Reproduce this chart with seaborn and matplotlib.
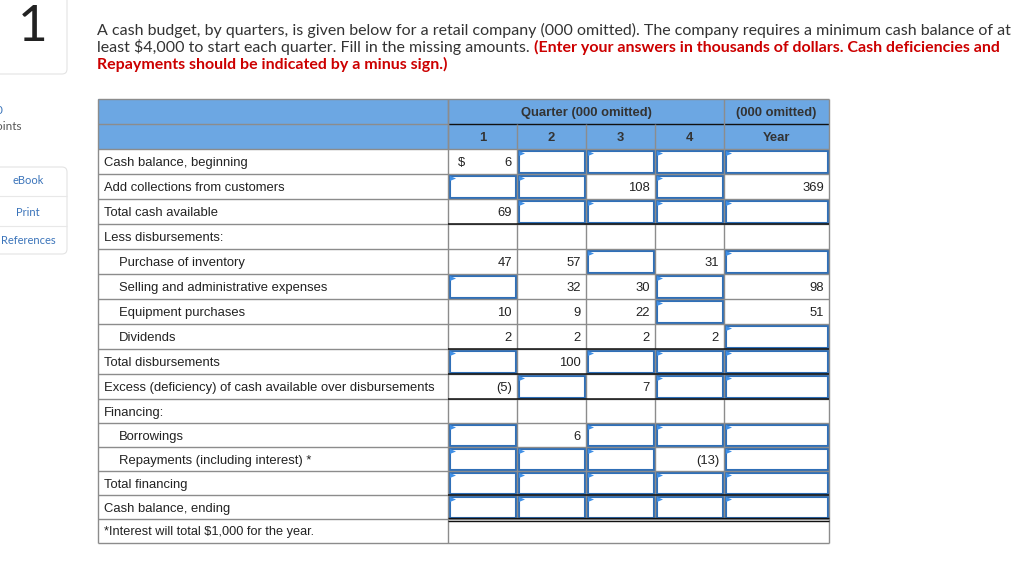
import numpy as np
import matplotlib.pyplot as plt
from matplotlib.patches import Rectangle, Polygon, FancyBboxPatch
import seaborn as sns

sns.set_theme(style="white")
plt.rcParams['font.family'] = ['Liberation Sans', 'DejaVu Sans']

# ---- data ----
IN = None  # input box (answer to fill in)

row_labels = ["Cash balance, beginning", "Add collections from customers", "Total cash available",
              "Less disbursements:", "Purchase of inventory", "Selling and administrative expenses",
              "Equipment purchases", "Dividends", "Total disbursements",
              "Excess (deficiency) of cash available over disbursements", "Financing:",
              "Borrowings", "Repayments (including interest) *", "Total financing",
              "Cash balance, ending"]
indented = [0, 0, 0, 0, 1, 1, 1, 1, 0, 0, 0, 1, 1, 0, 0]

col_heads = ["1", "2", "3", "4", "Year"]
q1 = ["6", IN, "69", "", "47", IN, "10", "2", IN, "(5)", "", IN, IN, IN, IN]
q2 = [IN, IN, IN, "", "57", "32", "9", "2", "100", IN, "", "6", IN, IN, IN]
q3 = [IN, "108", IN, "", IN, "30", "22", "2", IN, "7", "", IN, IN, IN, IN]
q4 = [IN, IN, IN, "", "31", IN, IN, "2", IN, IN, "", IN, "(13)", IN, IN]
year = [IN, "369", IN, "", IN, "98", "51", IN, IN, IN, "", IN, IN, IN, IN]
columns = [q1, q2, q3, q4, year]
footnote = "*Interest will total \\$1,000 for the year."

# ---- layout (pixels) ----
W, H = 1032, 565
col_w = [350, 69, 69, 69, 69, 105]
row_h = [25, 25] + [25] * 10 + [24] * 6
x_edges = np.concatenate([[0], np.cumsum(col_w)])
y_edges = np.concatenate([[0], np.cumsum(row_h)])
black_after = [2, 7, 8, 9, 13]   # data rows with dark rule below

head_blue = "#6ca7e3"
grid = "#8c8c8c"
box_blue = "#2f6fb7"
flag_blue = "#3f8fe6"
txt = "#222222"
fs = 9.4

fig = plt.figure(figsize=(W / 100, H / 100), dpi=100)
page = fig.add_axes([0, 0, 1, 1])
page.set_xlim(0, W)
page.set_ylim(H, 0)
page.axis("off")

tx0, ty0 = 98, 99
ax = fig.add_axes([tx0 / W, 1 - (ty0 + y_edges[-1]) / H, x_edges[-1] / W, y_edges[-1] / H])
ax.set_xlim(0, x_edges[-1])
ax.set_ylim(y_edges[-1], 0)
ax.axis("off")

# header
ax.add_patch(Rectangle((0, 0), x_edges[-1], y_edges[2], color=head_blue, lw=0))
ax.hlines(0, 0, x_edges[-1], color=grid, lw=1)
ax.hlines(y_edges[1], 0, x_edges[1], color=grid, lw=1)
ax.hlines(y_edges[1], x_edges[1], x_edges[-1], color="#111111", lw=1)
ax.vlines([x_edges[1], x_edges[5]], 0, y_edges[2], color=grid, lw=1)
ax.vlines(x_edges[2:5], y_edges[1], y_edges[2], color=grid, lw=1)
ax.text((x_edges[1] + x_edges[5]) / 2, y_edges[0] + 17, "Quarter (000 omitted)", ha="center",
        va="baseline", fontsize=fs, fontweight="bold", color="#333333")
ax.text((x_edges[5] + x_edges[6]) / 2, y_edges[0] + 17, "(000 omitted)", ha="center",
        va="baseline", fontsize=fs, fontweight="bold", color="#333333")
for j, h in enumerate(col_heads):
    ax.text((x_edges[j + 1] + x_edges[j + 2]) / 2, y_edges[1] + 17, h, ha="center",
            va="baseline", fontsize=fs, fontweight="bold", color="#333333")

# body grid
n = len(row_labels)
for i in range(n + 2):
    y = y_edges[i + 2]
    ax.hlines(y, 0, x_edges[-1], color=grid, lw=1)
ax.vlines([0, x_edges[-1]], 0, y_edges[-1], color=grid, lw=1)
ax.vlines(x_edges[1], 0, y_edges[-1], color=grid, lw=1)
ax.vlines(x_edges[2:6], y_edges[2], y_edges[n + 2], color=grid, lw=1)
for r in black_after:
    ax.hlines(y_edges[r + 3], x_edges[1], x_edges[-1], color="#111111", lw=1.1)
ax.hlines([y_edges[n + 2] - 1.5, y_edges[n + 2] + 1.5], x_edges[1], x_edges[-1], color="#111111", lw=1)

# rows
for i, lab in enumerate(row_labels):
    yt = y_edges[i + 2]
    ax.text(6 + 15 * indented[i], yt + 17, lab, ha="left", va="baseline", fontsize=fs, color=txt)
    for j, col in enumerate(columns):
        v = col[i]
        xl, xr = x_edges[j + 1], x_edges[j + 2]
        if v is None:
            ax.add_patch(Rectangle((xl + 1.5, yt + 1.5), xr - xl - 3, row_h[i + 2] - 3,
                                   fill=False, ec=box_blue, lw=1.5))
            ax.add_patch(Polygon([(xl + 2, yt + 2), (xl + 8, yt + 4.5), (xl + 2, yt + 7)],
                                 closed=True, color=flag_blue, lw=0))
        elif v:
            ax.text(xr - 5, yt + 17, v, ha="right", va="baseline", fontsize=fs, color=txt)
ax.text(x_edges[1] + 10, y_edges[2] + 17, "\\$", ha="left", va="baseline", fontsize=fs, color=txt)
ax.text(6, y_edges[n + 2] + 16.5, footnote, ha="left", va="baseline", fontsize=fs - 0.2, color=txt)

for art in list(ax.collections) + list(ax.patches):
    art.set_clip_on(False)

# ---- page chrome ----
page.add_patch(FancyBboxPatch((-20, -20), 87, 94, boxstyle="round,pad=0,rounding_size=5",
                              fc="white", ec="#e3e3e3", lw=0.8))
page.text(33, 27, "1", ha="center", va="center", fontsize=37, color="#222222", family="Lato")

page.add_patch(FancyBboxPatch((-20, 167), 87, 87, boxstyle="round,pad=0,rounding_size=5",
                              fc="white", ec="#e3e3e3", lw=0.8))
page.hlines([196, 226], -20, 67, color="#e8e8e8", lw=0.8)
for yy, s in [(181, "eBook"), (212, "Print"), (240, "References")]:
    page.text(28, yy, s, ha="center", va="center", fontsize=8, color="#3b74ba", family="Lato")
page.text(22, 127, "Points", ha="right", va="center", fontsize=8.5, color="#555555", family="Lato")
page.text(3, 111, "0", ha="right", va="center", fontsize=8.5, color="#3b74ba", family="Lato")

# problem statement, sized so the first line spans the same width as the reference
line1 = ("A cash budget, by quarters, is given below for a retail company (000 omitted). "
         "The company requires a minimum cash balance of at")
probe = page.text(97, 30, line1, fontsize=10, family="Lato")
fig.canvas.draw()
pfs = 10 * 913 / probe.get_window_extent().width
probe.remove()

page.text(97, 30, line1, ha="left", va="center", fontsize=pfs, color="#333333", family="Lato")
t2 = page.text(97, 47, "least \\$4,000 to start each quarter. Fill in the missing amounts. ",
               ha="left", va="center", fontsize=pfs, color="#333333", family="Lato")
fig.canvas.draw()
bb = t2.get_window_extent()
page.text(bb.x1, 47, "(Enter your answers in thousands of dollars. Cash deficiencies and",
          ha="left", va="center", fontsize=pfs, color="#cc0000", fontweight="bold", family="Lato")
page.text(97, 64, "Repayments should be indicated by a minus sign.)", ha="left", va="center",
          fontsize=pfs, color="#cc0000", fontweight="bold", family="Lato")

fig.savefig("out.png", dpi=100)
